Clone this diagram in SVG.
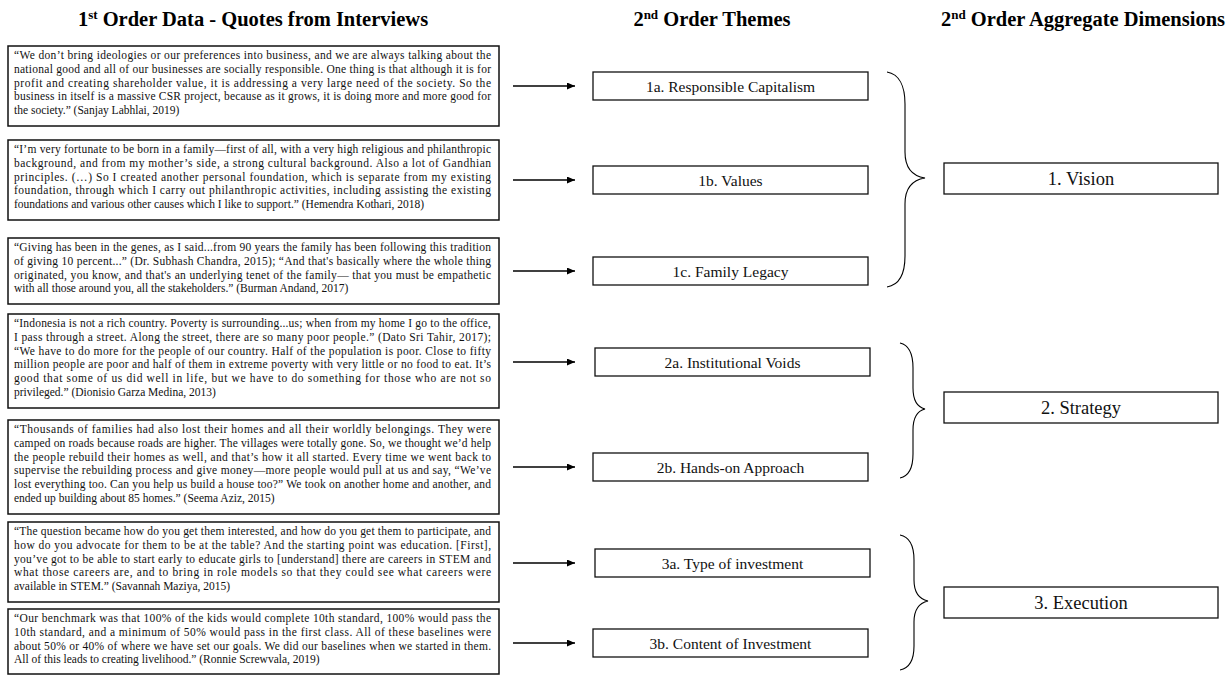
<svg xmlns="http://www.w3.org/2000/svg" width="1227" height="676" viewBox="0 0 1227 676">
<style>
.hdr{font-family:"Liberation Serif","Times New Roman",serif;font-weight:bold;font-size:20.5px;fill:#000}
.q{font-family:"Liberation Serif","Times New Roman",serif;font-size:11.5px;fill:#111}
.qbox{fill:#fff;stroke:#111;stroke-width:1.5}
.tbox{fill:#fff;stroke:#111;stroke-width:1.3}
.tt{font-family:"Liberation Serif","Times New Roman",serif;font-size:15.5px;fill:#111;text-anchor:middle}
.dt{font-family:"Liberation Serif","Times New Roman",serif;font-size:18.5px;fill:#111;text-anchor:middle}
.arr{stroke:#000;stroke-width:1.3;fill:none;marker-end:url(#ah)}
.br{stroke:#000;stroke-width:1.1;fill:none}
</style>
<defs>
<marker id="ah" markerUnits="userSpaceOnUse" markerWidth="9" markerHeight="7" refX="8" refY="3.5" orient="auto">
<path d="M0,0 L8,3.5 L0,7 z" fill="#000"/>
</marker>
</defs>
<rect width="1227" height="676" fill="#fff"/>

<g id="headers">
<text class="hdr" x="253" y="26" text-anchor="middle">1<tspan font-size="13" dy="-7">st</tspan><tspan dy="7"> Order Data - Quotes from Interviews</tspan></text>
<text class="hdr" x="712" y="26" text-anchor="middle">2<tspan font-size="13" dy="-7">nd</tspan><tspan dy="7"> Order Themes</tspan></text>
<text class="hdr" x="1083" y="26" text-anchor="middle">2<tspan font-size="13" dy="-7">nd</tspan><tspan dy="7"> Order Aggregate Dimensions</tspan></text>
</g>

<g id="quote1">
<rect class="qbox" x="8" y="46" width="491" height="80"/>
<text class="q">
<tspan x="14" y="59" textLength="477" lengthAdjust="spacing">“We don’t bring ideologies or our preferences into business, and we are always talking about the</tspan>
<tspan x="14" y="72.8" textLength="477" lengthAdjust="spacing">national good and all of our businesses are socially responsible. One thing is that although it is for</tspan>
<tspan x="14" y="86.6" textLength="477" lengthAdjust="spacing">profit and creating shareholder value, it is addressing a very large need of the society. So the</tspan>
<tspan x="14" y="100.4" textLength="477" lengthAdjust="spacing">business in itself is a massive CSR project, because as it grows, it is doing more and more good for</tspan>
<tspan x="14" y="114.2">the society.” (Sanjay Labhlai, 2019)</tspan>
</text>
</g>

<g id="quote2">
<rect class="qbox" x="8" y="140" width="491" height="80"/>
<text class="q">
<tspan x="14" y="153" textLength="477" lengthAdjust="spacing">“I’m very fortunate to be born in a family—first of all, with a very high religious and philanthropic</tspan>
<tspan x="14" y="166.8" textLength="477" lengthAdjust="spacing">background, and from my mother’s side, a strong cultural background. Also a lot of Gandhian</tspan>
<tspan x="14" y="180.6" textLength="477" lengthAdjust="spacing">principles. (…) So I created another personal foundation, which is separate from my existing</tspan>
<tspan x="14" y="194.4" textLength="477" lengthAdjust="spacing">foundation, through which I carry out philanthropic activities, including assisting the existing</tspan>
<tspan x="14" y="208.2">foundations and various other causes which I like to support.” (Hemendra Kothari, 2018)</tspan>
</text>
</g>

<g id="quote3">
<rect class="qbox" x="8" y="238" width="491" height="66"/>
<text class="q">
<tspan x="14" y="251" textLength="477" lengthAdjust="spacing">“Giving has been in the genes, as I said...from 90 years the family has been following this tradition</tspan>
<tspan x="14" y="264.8" textLength="477" lengthAdjust="spacing">of giving 10 percent...” (Dr. Subhash Chandra, 2015); “And that's basically where the whole thing</tspan>
<tspan x="14" y="278.6" textLength="477" lengthAdjust="spacing">originated, you know, and that's an underlying tenet of the family— that you must be empathetic</tspan>
<tspan x="14" y="292.4">with all those around you, all the stakeholders.” (Burman Andand, 2017)</tspan>
</text>
</g>

<g id="quote4">
<rect class="qbox" x="8" y="314" width="491" height="94"/>
<text class="q">
<tspan x="14" y="327" textLength="477" lengthAdjust="spacing">“Indonesia is not a rich country. Poverty is surrounding...us; when from my home I go to the office,</tspan>
<tspan x="14" y="340.8" textLength="477" lengthAdjust="spacing">I pass through a street. Along the street, there are so many poor people.” (Dato Sri Tahir, 2017);</tspan>
<tspan x="14" y="354.6" textLength="477" lengthAdjust="spacing">“We have to do more for the people of our country. Half of the population is poor. Close to fifty</tspan>
<tspan x="14" y="368.4" textLength="477" lengthAdjust="spacing">million people are poor and half of them in extreme poverty with very little or no food to eat. It’s</tspan>
<tspan x="14" y="382.2" textLength="477" lengthAdjust="spacing">good that some of us did well in life, but we have to do something for those who are not so</tspan>
<tspan x="14" y="396">privileged.” (Dionisio Garza Medina, 2013)</tspan>
</text>
</g>

<g id="quote5">
<rect class="qbox" x="8" y="420" width="491" height="94"/>
<text class="q">
<tspan x="14" y="433" textLength="477" lengthAdjust="spacing">“Thousands of families had also lost their homes and all their worldly belongings. They were</tspan>
<tspan x="14" y="446.8" textLength="477" lengthAdjust="spacing">camped on roads because roads are higher. The villages were totally gone. So, we thought we’d help</tspan>
<tspan x="14" y="460.6" textLength="477" lengthAdjust="spacing">the people rebuild their homes as well, and that’s how it all started. Every time we went back to</tspan>
<tspan x="14" y="474.4" textLength="477" lengthAdjust="spacing">supervise the rebuilding process and give money—more people would pull at us and say, “We’ve</tspan>
<tspan x="14" y="488.2" textLength="477" lengthAdjust="spacing">lost everything too. Can you help us build a house too?” We took on another home and another, and</tspan>
<tspan x="14" y="502">ended up building about 85 homes.” (Seema Aziz, 2015)</tspan>
</text>
</g>

<g id="quote6">
<rect class="qbox" x="8" y="522" width="491" height="80"/>
<text class="q">
<tspan x="14" y="535" textLength="477" lengthAdjust="spacing">“The question became how do you get them interested, and how do you get them to participate, and</tspan>
<tspan x="14" y="548.8" textLength="477" lengthAdjust="spacing">how do you advocate for them to be at the table? And the starting point was education. [First],</tspan>
<tspan x="14" y="562.6" textLength="477" lengthAdjust="spacing">you’ve got to be able to start early to educate girls to [understand] there are careers in STEM and</tspan>
<tspan x="14" y="576.4" textLength="477" lengthAdjust="spacing">what those careers are, and to bring in role models so that they could see what careers were</tspan>
<tspan x="14" y="590.2">available in STEM.” (Savannah Maziya, 2015)</tspan>
</text>
</g>

<g id="quote7">
<rect class="qbox" x="8" y="609" width="491" height="65"/>
<text class="q">
<tspan x="14" y="622" textLength="477" lengthAdjust="spacing">“Our benchmark was that 100% of the kids would complete 10th standard, 100% would pass the</tspan>
<tspan x="14" y="635.8" textLength="477" lengthAdjust="spacing">10th standard, and a minimum of 50% would pass in the first class. All of these baselines were</tspan>
<tspan x="14" y="649.6" textLength="477" lengthAdjust="spacing">about 50% or 40% of where we have set our goals. We did our baselines when we started in them.</tspan>
<tspan x="14" y="663.4">All of this leads to creating livelihood.” (Ronnie Screwvala, 2019)</tspan>
</text>
</g>

<g id="theme1a"><rect class="tbox" x="593" y="72" width="275" height="28"/><text class="tt" x="730.5" y="91.5">1a. Responsible Capitalism</text></g>
<g id="theme1b"><rect class="tbox" x="593" y="166" width="275" height="28"/><text class="tt" x="730.5" y="185.5">1b. Values</text></g>
<g id="theme1c"><rect class="tbox" x="593" y="257" width="275" height="28"/><text class="tt" x="730.5" y="276.5">1c. Family Legacy</text></g>
<g id="theme2a"><rect class="tbox" x="595" y="348" width="275" height="28"/><text class="tt" x="732.5" y="367.5">2a. Institutional Voids</text></g>
<g id="theme2b"><rect class="tbox" x="593" y="453" width="275" height="28"/><text class="tt" x="730.5" y="472.5">2b. Hands-on Approach</text></g>
<g id="theme3a"><rect class="tbox" x="595" y="549" width="275" height="28"/><text class="tt" x="732.5" y="568.5">3a. Type of investment</text></g>
<g id="theme3b"><rect class="tbox" x="593" y="629" width="275" height="28"/><text class="tt" x="730.5" y="648.5">3b. Content of Investment</text></g>

<g id="dim1"><rect class="tbox" x="944" y="163" width="274" height="31"/><text class="dt" x="1081" y="185">1. Vision</text></g>
<g id="dim2"><rect class="tbox" x="944" y="392" width="274" height="31"/><text class="dt" x="1081" y="414">2. Strategy</text></g>
<g id="dim3"><rect class="tbox" x="944" y="587" width="274" height="31"/><text class="dt" x="1081" y="609">3. Execution</text></g>

<g id="connectors">
<line class="arr" x1="513" y1="86" x2="575" y2="86"/>
<line class="arr" x1="513" y1="180" x2="575" y2="180"/>
<line class="arr" x1="513" y1="271" x2="575" y2="271"/>
<line class="arr" x1="513" y1="362" x2="575" y2="362"/>
<line class="arr" x1="513" y1="467" x2="575" y2="467"/>
<line class="arr" x1="513" y1="563" x2="575" y2="563"/>
<line class="arr" x1="513" y1="643" x2="575" y2="643"/>
<path class="br" d="M887,72 C899,74 905,86 905,104 L905,152 C905,168 912,176 925,178 C912,180 905,188 905,204 L905,256 C905,274 899,285 887,287"/>
<path class="br" d="M900,343 C909,345 913,354 913,368 L913,388 C913,400 917,407 925,409 C917,411 913,418 913,430 L913,454 C913,468 909,476 900,478"/>
<path class="br" d="M900,535 C910,537 914,546 914,560 L914,580 C914,592 919,599 928,601 C919,603 914,610 914,622 L914,646 C914,660 910,668 900,670"/>
</g>
</svg>
